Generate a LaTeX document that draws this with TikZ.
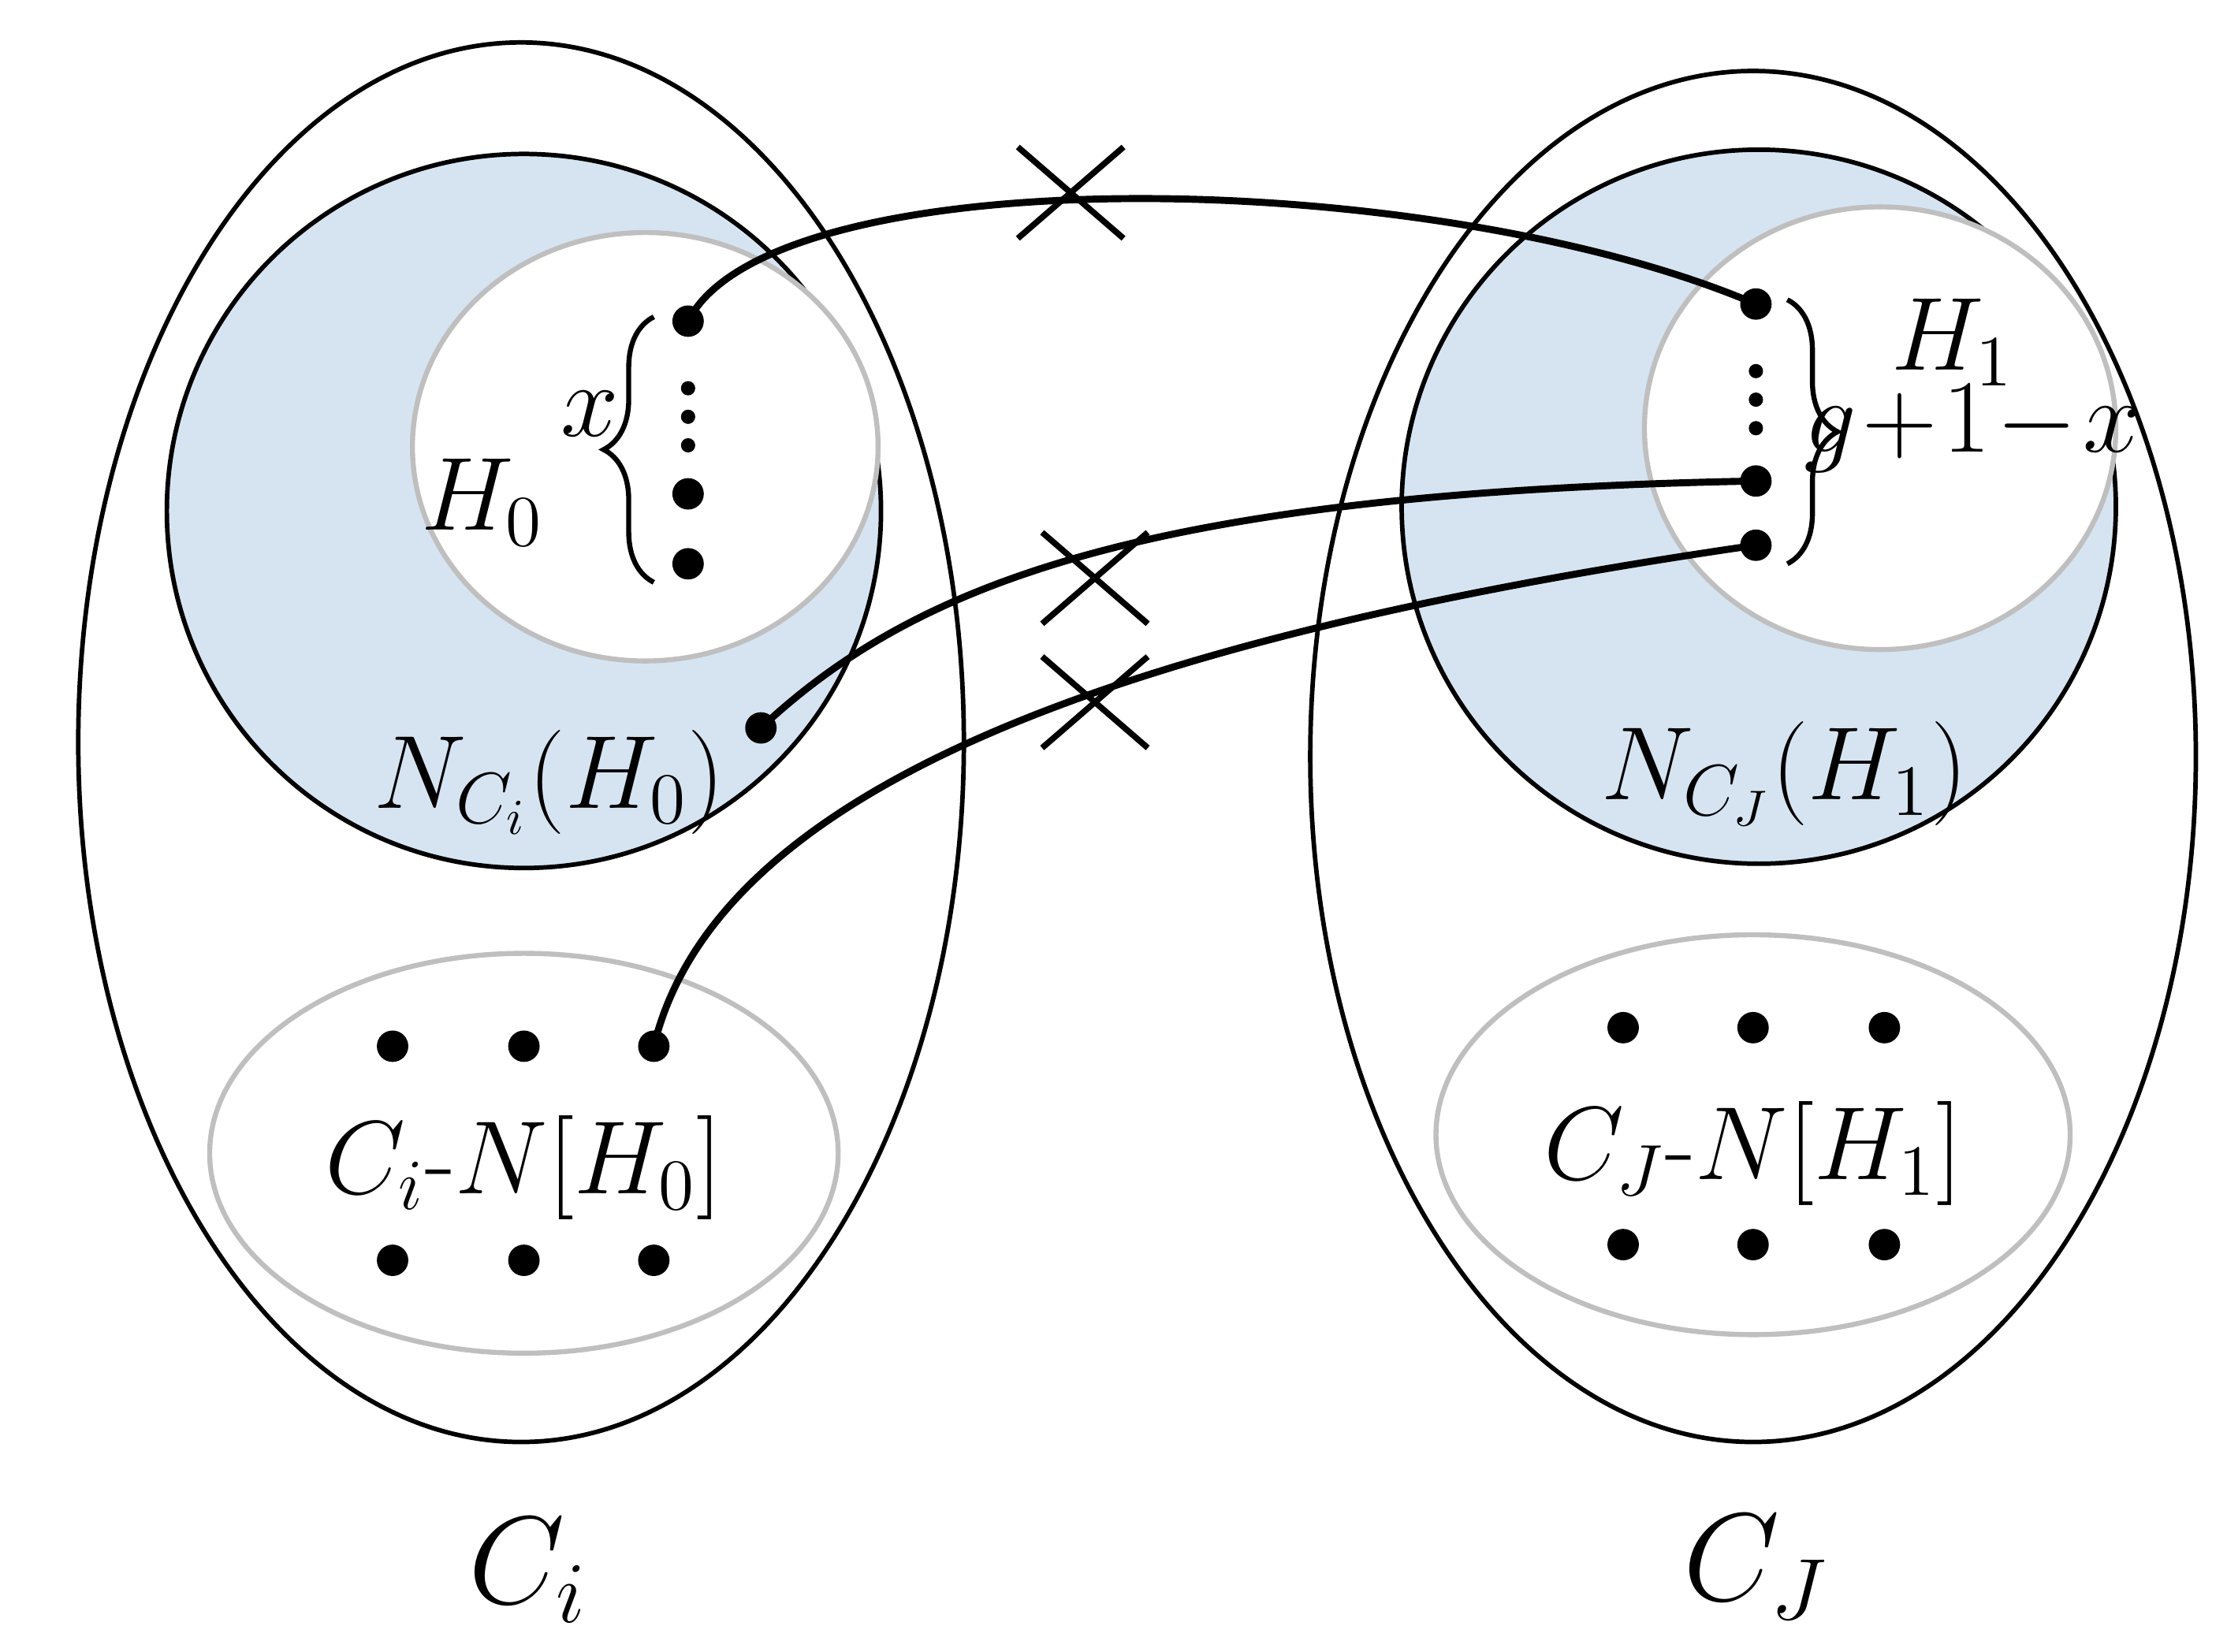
\documentclass[tikz,border=0pt]{standalone}
\usepackage{amsmath}
\usetikzlibrary{decorations.pathreplacing,calc}
\definecolor{lb}{RGB}{214,228,242}
\begin{document}
\begin{tikzpicture}[x=0.01cm,y=-0.01cm,
 dot/.style={circle,fill=black,inner sep=0pt,minimum size=0.22cm},
 sdot/.style={circle,fill=black,inner sep=0pt,minimum size=0.1cm},
 lab/.style={font=\fontsize{20}{24}\selectfont},
 big/.style={font=\fontsize{26}{30}\selectfont},
 edge/.style={line width=1.4pt},
 br/.style={line width=1pt,decorate,decoration={brace,amplitude=10pt}},
 cross/.style={line width=1.2pt}]
\useasboundingbox (0,0) rectangle (1560,1157);
% blue disks
\draw[fill=lb,line width=0.9pt] (367,358) circle [radius=2.5cm];
\draw[fill=lb,line width=0.9pt] (1232,355) circle [radius=2.5cm];
% inner white
\draw[fill=white,draw=black!25,line width=1pt] (452,313) ellipse [x radius=1.63cm, y radius=1.5cm];
\draw[fill=white,draw=black!25,line width=1pt] (1317,300) ellipse [x radius=1.65cm, y radius=1.55cm];
% big ellipses
\draw[line width=0.9pt] (365,520) ellipse [x radius=3.1cm, y radius=4.9cm];
\draw[line width=0.9pt] (1228,530) ellipse [x radius=3.1cm, y radius=4.8cm];
% lower ellipses
\draw[draw=black!25,line width=1pt] (367,808) ellipse [x radius=2.2cm, y radius=1.4cm];
\draw[draw=black!25,line width=1pt] (1228,795) ellipse [x radius=2.22cm, y radius=1.4cm];
% left column dots
\node[dot] (l1) at (482,225) {};
\node[sdot] at (482,272) {};\node[sdot] at (482,292) {};\node[sdot] at (482,312) {};
\node[dot] (l2) at (482,346) {};
\node[dot] (l3) at (482,395) {};
\draw[br] (458,408) -- (458,222);
\node[lab] (xl) at (413,290) {$x$};
\node[lab] (h0) at (338,352) {$H_0$};
% right column dots
\node[dot] (r1) at (1230,213) {};
\node[sdot] at (1230,260) {};\node[sdot] at (1230,280) {};\node[sdot] at (1230,300) {};
\node[dot] (r2) at (1230,337) {};
\node[dot] (r3) at (1230,382) {};
\draw[br] (1252,210) -- (1252,395);
\node[lab,anchor=west,inner sep=0pt] (gl) at (1263,300) {$g\!+\!1\!-\!x$};
\node[lab] (h1) at (1368,240) {$H_1$};
% other dots
\node[dot] (n0) at (533,510) {};
\foreach \x/\n in {275/a,367/b,458/c}{\node[dot] (t\n) at (\x,733) {}; \node[dot] (u\n) at (\x,883) {};}
\foreach \x/\n in {1137/a,1228/b,1320/c}{\node[dot] (v\n) at (\x,720) {}; \node[dot] (w\n) at (\x,872) {};}
% labels
\node[lab] (nci) at (385,548) {$N_{C_i}(H_0)$};
\node[lab] (ncj) at (1250,542) {$N_{C_J}(H_1)$};
\node[lab] (cmi) at (367,818) {$C_i$-$N[H_0]$};
\node[lab] (cmj) at (1228,808) {$C_J$-$N[H_1]$};
\node[big] (ci) at (370,1100) {$C_i$};
\node[big] (cj) at (1230,1098) {$C_J$};
% edges
\draw[edge] (l1.center) .. controls (540,110) and (1000,115) .. (r1.center);
\draw[edge] (n0.center) .. controls (640,410) and (800,345) .. (r2.center);
\draw[edge] (tc.center) .. controls (500,560) and (760,450) .. (r3.center);
% crosses
\coordinate (k1) at (750,135);
\coordinate (k2) at (767,405);
\coordinate (k3) at (767,492);
\foreach \k in {k1,k2,k3}{
 \draw[cross] ($(\k)+(-37,-32)$) -- ($(\k)+(37,32)$);
 \draw[cross] ($(\k)+(-37,32)$) -- ($(\k)+(37,-32)$);}
\end{tikzpicture}
\end{document}
